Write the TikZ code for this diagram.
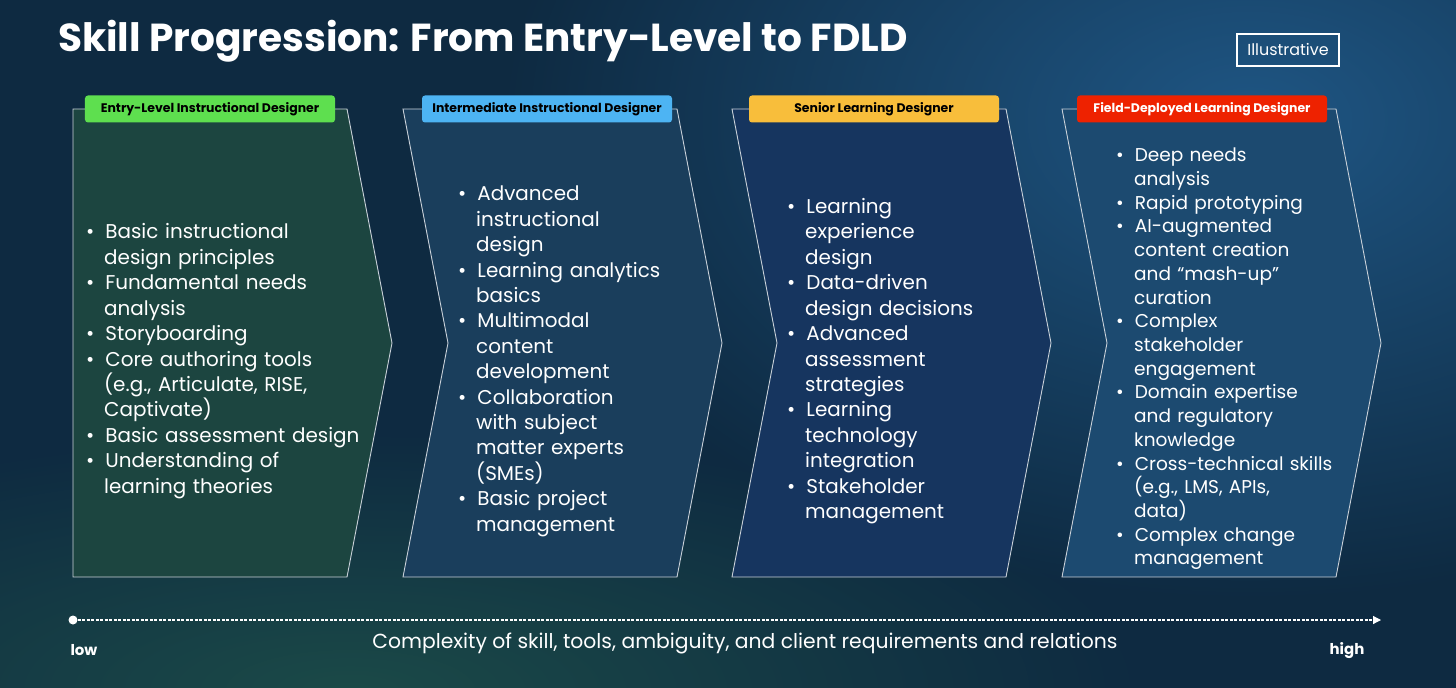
\documentclass[tikz,border=0pt]{standalone}
\usepackage{fontspec}
\setmainfont{Poppins}
\newfontfamily\tagfamily{Poppins}
\usetikzlibrary{arrows.meta,fadings,positioning}

\definecolor{bgnavy}{HTML}{0E2A41}
\definecolor{glowblue}{HTML}{1F5684}
\definecolor{glowgreen}{HTML}{1B4A48}
\definecolor{chevA}{HTML}{1C4540}
\definecolor{chevB}{HTML}{1A3E5C}
\definecolor{chevC}{HTML}{16355F}
\definecolor{chevD}{HTML}{1C4A70}
\definecolor{edgegray}{HTML}{C9D1D9}
\definecolor{tagA}{HTML}{5EDF4F}
\definecolor{tagB}{HTML}{4DB4F3}
\definecolor{tagC}{HTML}{F8BE3B}
\definecolor{tagD}{HTML}{EE2200}

\tikzfading[name=glow, inner color=transparent!0, outer color=transparent!100]

\newenvironment{skillitems}{%
  \begin{list}{\textbullet}{\setlength{\leftmargin}{18bp}\setlength{\labelwidth}{7bp}%
    \setlength{\labelsep}{11bp}\setlength{\itemsep}{0pt}\setlength{\parsep}{0pt}%
    \setlength{\topsep}{0pt}\setlength{\partopsep}{0pt}}}{\end{list}}

\begin{document}
\begin{tikzpicture}[x=1bp,y=-1bp,
  chevron/.style={draw=edgegray, line width=0.9bp, line join=miter},
  tag/.style={rounded corners=3bp, minimum width=250bp, minimum height=27bp,
    inner sep=0pt, font=\tagfamily\bfseries\fontsize{12.5}{15}\selectfont, text=black},
  skills/.style={anchor=west, text width=300bp, align=left, inner sep=0pt,
    text=white, font=\fontsize{20}{25.5}\selectfont},
  axislbl/.style={text=white, inner sep=0pt}]

% background
\useasboundingbox (0,0) rectangle (1456,688);
\fill[bgnavy] (0,0) rectangle (1456,688);
\fill[glowblue, path fading=glow] (1250,120) ellipse (750 and 480);
\fill[glowgreen, path fading=glow] (350,690) ellipse (800 and 260);

% chevrons
\foreach \lx/\nd/\col in {73/0/chevA,403/45/chevB,732/45/chevC,1062/45/chevD}{
  \draw[chevron, fill=\col] (\lx,109) -- ++(274,0) -- ++(45,234) -- ++(-45,234)
    -- ++(-274,0) -- ++(\nd,-234) -- cycle;
}

% title and tag
\node[anchor=base west, text=white, inner sep=0pt,
  font=\bfseries\fontsize{39.2}{44}\selectfont] (title) at (58,52)
  {Skill Progression: From Entry-Level to FDLD};
\node[draw=white, line width=1.2bp, minimum width=102bp, minimum height=32bp,
  inner sep=0pt, text=white, font=\fontsize{16}{18}\selectfont] (illus) at (1288,50) {Illustrative};

% stage labels
\node[tag, fill=tagA] (entry) at (210,109) {Entry-Level Instructional Designer};
\node[tag, fill=tagB] (inter) at (547,109) {Intermediate Instructional Designer};
\node[tag, fill=tagC] (senior) at (874,109) {Senior Learning Designer};
\node[tag, fill=tagD, text=white] (field) at (1202,109) {Field-Deployed Learning Designer};

% skill lists
\node[skills] (entrylist) at (86,356) {\begin{skillitems}
  \item Basic instructional\\ design principles
  \item Fundamental needs\\ analysis
  \item Storyboarding
  \item Core authoring tools\\ (e.g., Articulate, RISE,\\ Captivate)
  \item Basic assessment design
  \item Understanding of\\ learning theories
\end{skillitems}};
\node[skills] (interlist) at (458,356) {\begin{skillitems}
  \item Advanced\\ instructional\\ design
  \item Learning analytics\\ basics
  \item Multimodal\\ content\\ development
  \item Collaboration\\ with subject\\ matter experts\\ (SMEs)
  \item Basic project\\ management
\end{skillitems}};
\node[skills] (seniorlist) at (787,356) {\begin{skillitems}
  \item Learning\\ experience\\ design
  \item Data-driven\\ design decisions
  \item Advanced\\ assessment\\ strategies
  \item Learning\\ technology\\ integration
  \item Stakeholder\\ management
\end{skillitems}};
\node[skills, font=\fontsize{18.6}{23.8}\selectfont] (fieldlist) at (1116,354) {\begin{skillitems}
  \item Deep needs\\ analysis
  \item Rapid prototyping
  \item AI-augmented\\ content creation\\ and “mash-up”\\ curation
  \item Complex\\ stakeholder\\ engagement
  \item Domain expertise\\ and regulatory\\ knowledge
  \item Cross-technical skills\\ (e.g., LMS, APIs,\\ data)
  \item Complex change\\ management
\end{skillitems}};

% complexity axis
\node[circle, fill=white, inner sep=0pt, minimum size=9bp] (lowdot) at (73,620) {};
\coordinate (highend) at (1381,620);
\draw[white, line width=1.1bp, dash pattern=on 3bp off 1.5bp, -{Triangle[length=8bp,width=8bp]}]
  (lowdot) -- (highend);
\node[axislbl, font=\bfseries\fontsize{15}{18}\selectfont] (low) at (84,650) {low};
\node[axislbl, font=\bfseries\fontsize{15}{18}\selectfont] (high) at (1347,651) {high};
\node[axislbl, font=\fontsize{20.4}{24}\selectfont] (axistext) at (745,643)
  {Complexity of skill, tools, ambiguity, and client requirements and relations};
\end{tikzpicture}
\end{document}
